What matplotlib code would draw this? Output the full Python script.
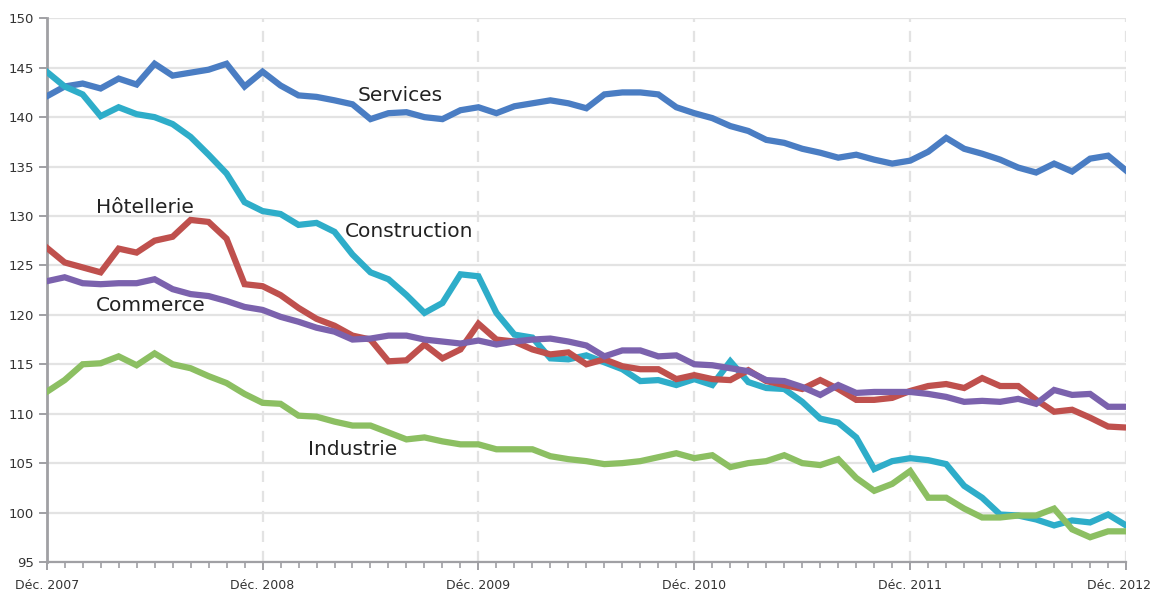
import matplotlib
matplotlib.use('Agg')
import matplotlib.pyplot as plt
import matplotlib.transforms as mtransforms
from matplotlib.ticker import MultipleLocator

# monthly index, Déc. 2007 .. Déc. 2012
services = [142.1, 143.1, 143.4, 142.9, 143.9, 143.3, 145.4, 144.2, 144.5, 144.8,
            145.4, 143.1, 144.6, 143.2, 142.2, 142.05, 141.7, 141.3, 139.8, 140.4,
            140.5, 140.0, 139.8, 140.7, 141.0, 140.4, 141.1, 141.4, 141.7, 141.4,
            140.9, 142.3, 142.5, 142.5, 142.3, 141.0, 140.4, 139.9, 139.1, 138.6,
            137.7, 137.4, 136.8, 136.4, 135.9, 136.2, 135.7, 135.3, 135.6, 136.5,
            137.9, 136.8, 136.3, 135.7, 134.9, 134.4, 135.3, 134.5, 135.8, 136.1,
            134.6]
construction = [144.6, 143.1, 142.3, 140.1, 141.0, 140.3, 140.0, 139.3, 138.0, 136.2,
                134.3, 131.4, 130.5, 130.2, 129.1, 129.3, 128.4, 126.1, 124.3, 123.6,
                122.0, 120.2, 121.2, 124.1, 123.9, 120.2, 118.0, 117.7, 115.6, 115.5,
                115.9, 115.2, 114.5, 113.3, 113.4, 112.9, 113.5, 112.9, 115.3, 113.2,
                112.6, 112.5, 111.2, 109.5, 109.1, 107.6, 104.4, 105.2, 105.5, 105.3,
                104.9, 102.7, 101.5, 99.8, 99.7, 99.3, 98.7, 99.2, 99.0, 99.8,
                98.7]
hotellerie = [126.8, 125.3, 124.8, 124.3, 126.7, 126.3, 127.5, 127.9, 129.6, 129.4,
              127.7, 123.1, 122.9, 122.0, 120.7, 119.6, 118.9, 117.9, 117.5, 115.3,
              115.4, 117.0, 115.6, 116.5, 119.1, 117.5, 117.3, 116.5, 116.0, 116.2,
              115.0, 115.5, 114.8, 114.5, 114.5, 113.5, 113.9, 113.5, 113.4, 114.4,
              113.3, 112.9, 112.5, 113.4, 112.5, 111.4, 111.4, 111.6, 112.3, 112.8,
              113.0, 112.6, 113.6, 112.8, 112.8, 111.4, 110.2, 110.4, 109.6, 108.7,
              108.6]
commerce = [123.4, 123.8, 123.2, 123.1, 123.2, 123.2, 123.6, 122.6, 122.1, 121.9,
            121.4, 120.8, 120.5, 119.8, 119.3, 118.7, 118.3, 117.5, 117.6, 117.9,
            117.9, 117.5, 117.3, 117.1, 117.4, 117.0, 117.3, 117.5, 117.6, 117.3,
            116.9, 115.8, 116.4, 116.4, 115.8, 115.9, 115.0, 114.9, 114.6, 114.3,
            113.4, 113.3, 112.7, 111.9, 112.9, 112.1, 112.2, 112.2, 112.2, 112.0,
            111.7, 111.2, 111.3, 111.2, 111.5, 111.0, 112.4, 111.9, 112.0, 110.7,
            110.7]
industrie = [112.2, 113.4, 115.0, 115.1, 115.8, 114.9, 116.1, 115.0, 114.6, 113.8,
             113.1, 112.0, 111.1, 111.0, 109.8, 109.7, 109.2, 108.8, 108.8, 108.1,
             107.4, 107.6, 107.2, 106.9, 106.9, 106.4, 106.4, 106.4, 105.7, 105.4,
             105.2, 104.9, 105.0, 105.2, 105.6, 106.0, 105.5, 105.8, 104.6, 105.0,
             105.2, 105.8, 105.0, 104.8, 105.4, 103.5, 102.2, 102.9, 104.2, 101.5,
             101.5, 100.4, 99.5, 99.5, 99.7, 99.7, 100.4, 98.3, 97.5, 98.1,
             98.1]

year_labels = ['Déc. 2007', 'Déc. 2008', 'Déc. 2009', 'Déc. 2010', 'Déc. 2011', 'Déc. 2012']

series = [
    ('Services', services, '#4A7DC3', (17.3, 142.2)),
    ('Construction', construction, '#2EADC9', (16.6, 128.4)),
    ('Hôtellerie', hotellerie, '#BF504D', (2.75, 130.9)),
    ('Commerce', commerce, '#7B62AD', (2.75, 120.9)),
    ('Industrie', industrie, '#8CBF62', (14.5, 106.4)),
]

fig = plt.figure(figsize=(11.52, 5.90), dpi=100)
ax = fig.add_axes([0.0405, 0.0475, 0.937, 0.9215])

x = list(range(len(services)))
for name, vals, col, (tx, ty) in series:
    ax.plot(x, vals, color=col, lw=4.5, solid_joinstyle='miter', zorder=3)
    ax.text(tx, ty, name, fontsize=14.5, color='#222222', ha='left', va='center',
            family='DejaVu Sans', zorder=4)

ax.set_xlim(0, 60)
ax.set_ylim(95, 150)
ax.yaxis.set_major_locator(MultipleLocator(5))
ax.set_xticks(range(0, 61, 12))
ax.set_xticklabels(year_labels)
ax.xaxis.set_minor_locator(MultipleLocator(1))

ax.grid(axis='y', color='#E3E3E3', lw=1.6, zorder=0)
for xv in range(12, 61, 12):
    ax.axvline(xv, color='#E3E3E3', lw=1.6, ls=(0, (5, 4)), zorder=0)

for s in ['top', 'right']:
    ax.spines[s].set_visible(False)
ax.spines['left'].set_color('#A0A0A4')
ax.spines['left'].set_linewidth(2)
ax.spines['bottom'].set_color('#A0A0A4')
ax.spines['bottom'].set_linewidth(1.6)

ax.tick_params(axis='y', colors='#A0A0A4', labelcolor='#333333', length=6, width=1.4,
               labelsize=9.5, pad=3)
ax.tick_params(axis='x', which='major', colors='#A0A0A4', labelcolor='#333333', length=6,
               width=1.4, labelsize=9, pad=6)
ax.tick_params(axis='x', which='minor', colors='#A0A0A4', length=4, width=1.2)

# keep the edge labels inside the canvas
lbls = ax.get_xticklabels()
lbls[-1].set_transform(lbls[-1].get_transform() +
                       mtransforms.ScaledTranslation(-0.07, 0, fig.dpi_scale_trans))

fig.savefig('out.png', dpi=100)
